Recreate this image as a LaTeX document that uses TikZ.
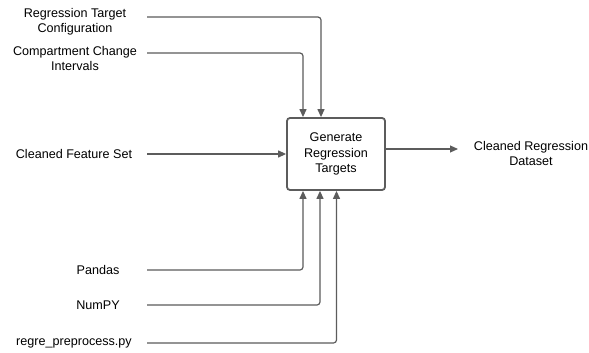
\documentclass[tikz,border=0pt]{standalone}
\usepackage{fontspec}
\setmainfont{Liberation Sans}
\usetikzlibrary{arrows.meta}
\definecolor{linegray}{HTML}{5C5C5C}
\tikzset{
  lbl/.style={align=center, font=\fontsize{12.6}{15}\selectfont, text=black, inner sep=0pt},
  procbox/.style={draw=linegray, line width=1.8pt, rounded corners=3pt, minimum width=98pt, minimum height=72pt, align=center, font=\fontsize{12.6}{15.5}\selectfont},
  flow/.style={draw=linegray, line width=1.2pt, rounded corners=3pt, -{Triangle[length=8pt,width=7pt]}},
}
\begin{document}
\begin{tikzpicture}[x=1pt,y=-1pt]
\useasboundingbox (0,0) rectangle (589,353);
\fill[white] (0,0) rectangle (589,353);

% process box
\node[procbox] (box) at (336,154) {Generate\\Regression\\Targets};

% labels
\node[lbl] (cfg) at (75,21.5) {Regression Target\\Configuration};
\node[lbl] (cci) at (75,58.5) {Compartment Change\\Intervals};
\node[lbl] (cfs) at (74,154) {Cleaned Feature Set};
\node[lbl] (out) at (531,153.5) {Cleaned Regression\\Dataset};
\node[lbl] (pd) at (98,270) {Pandas};
\node[lbl] (np) at (98,305) {NumPY};
\node[lbl] (rp) at (74,343) {regre\_preprocess.py};

% connector start points
\coordinate (s1) at (147,17);
\coordinate (s2) at (147,53);
\coordinate (s3) at (147,154);
\coordinate (s4) at (147,270);
\coordinate (s5) at (147,305);
\coordinate (s6) at (147,343);
\coordinate (e1) at (458,149);

% inputs from above
\draw[flow] (s1) -| ([xshift=-15pt]box.north);
\draw[flow] (s2) -| ([xshift=-33pt]box.north);
% input from the left
\draw[flow] (s3) -- (box.west);
% output
\draw[flow] (box.east |- e1) -- (e1);
% tools from below
\draw[flow] (s4) -| ([xshift=-33pt]box.south);
\draw[flow] (s5) -| ([xshift=-16pt]box.south);
\draw[flow] (s6) -| ([xshift=0.5pt]box.south);
\end{tikzpicture}
\end{document}
